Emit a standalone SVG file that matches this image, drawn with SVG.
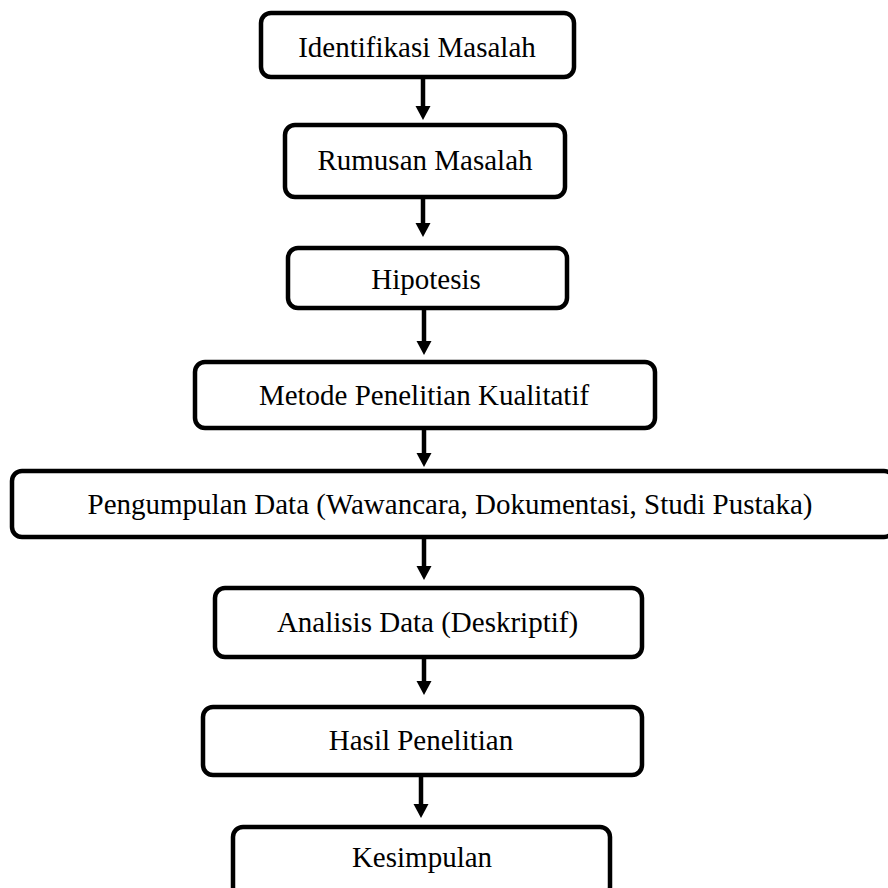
<svg xmlns="http://www.w3.org/2000/svg" width="888" height="888" viewBox="0 0 888 888">
<style>
.box{fill:#fff;stroke:#000;stroke-width:4.5}
.lbl{font-family:"Liberation Serif","Times New Roman",serif;font-size:29px;fill:#000;text-anchor:middle}
.conn{stroke:#000;stroke-width:4.5;fill:none}
.head{fill:#000}
</style>
<rect width="888" height="888" fill="#fff"/>
<g id="connectors">
<path class="conn" d="M423,77 V106"/><path class="head" d="M415.5,106 H430.5 L423,120 Z"/>
<path class="conn" d="M423,197 V223"/><path class="head" d="M415.5,223 H430.5 L423,237 Z"/>
<path class="conn" d="M424,308 V341"/><path class="head" d="M416.5,341 H431.5 L424,355 Z"/>
<path class="conn" d="M424,428 V453"/><path class="head" d="M416.5,453 H431.5 L424,467 Z"/>
<path class="conn" d="M424,537 V566"/><path class="head" d="M416.5,566 H431.5 L424,580 Z"/>
<path class="conn" d="M424,657 V681"/><path class="head" d="M416.5,681 H431.5 L424,695 Z"/>
<path class="conn" d="M421,775 V804"/><path class="head" d="M413.5,804 H428.5 L421,818 Z"/>
</g>
<g id="n1"><rect class="box" x="261" y="13" width="313" height="64" rx="10"/><text class="lbl" x="417" y="57">Identifikasi Masalah</text></g>
<g id="n2"><rect class="box" x="285" y="125" width="280" height="72" rx="10"/><text class="lbl" x="425" y="170">Rumusan Masalah</text></g>
<g id="n3"><rect class="box" x="288" y="248" width="279" height="60" rx="10"/><text class="lbl" x="426" y="289">Hipotesis</text></g>
<g id="n4"><rect class="box" x="195" y="362" width="460" height="66" rx="10"/><text class="lbl" x="424" y="405">Metode Penelitian Kualitatif</text></g>
<g id="n5"><rect class="box" x="12" y="471" width="882" height="66" rx="10"/><text class="lbl" x="450" y="514">Pengumpulan Data (Wawancara, Dokumentasi, Studi Pustaka)</text></g>
<g id="n6"><rect class="box" x="215" y="588" width="427" height="69" rx="10"/><text class="lbl" x="427.5" y="632">Analisis Data (Deskriptif)</text></g>
<g id="n7"><rect class="box" x="203" y="707" width="439" height="68" rx="10"/><text class="lbl" x="421" y="750">Hasil Penelitian</text></g>
<g id="n8"><rect class="box" x="233" y="827" width="377" height="70" rx="10"/><text class="lbl" x="422" y="867">Kesimpulan</text></g>
</svg>
